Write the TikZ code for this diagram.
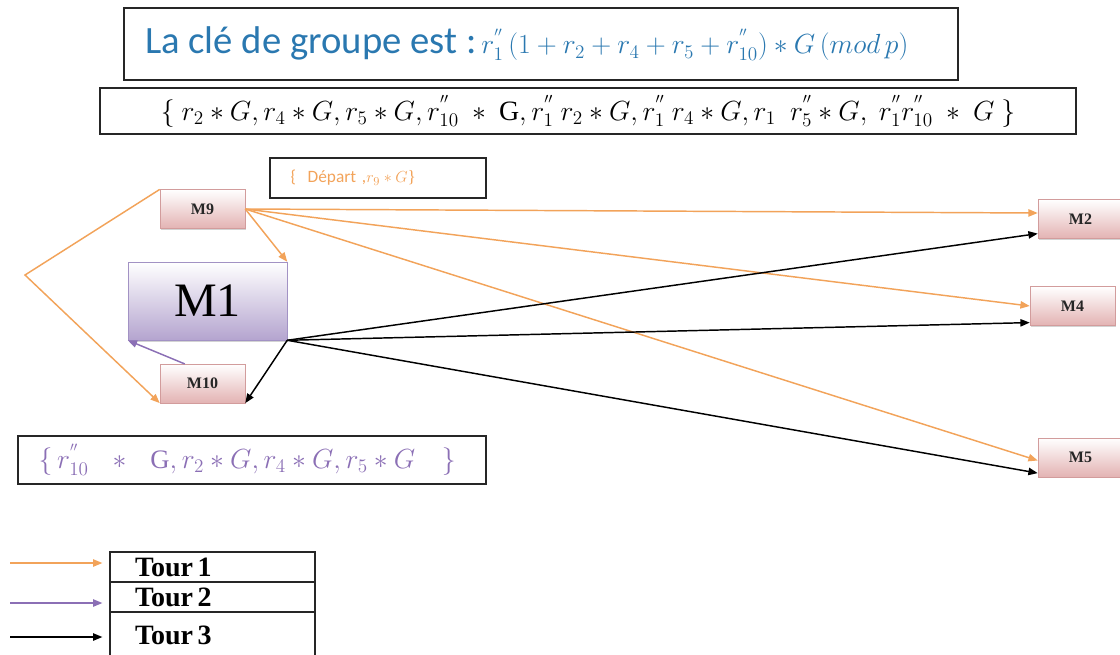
\documentclass[tikz,border=0pt]{standalone}
\usepackage{fontspec}
\setmainfont{Liberation Serif}
\newfontfamily\calibri{Carlito}
\usetikzlibrary{arrows.meta,positioning,calc,shadows}
\definecolor{tourorange}{HTML}{F2A35A}
\definecolor{tourpurple}{HTML}{8B6FB5}
\definecolor{keyblue}{HTML}{2A78B0}
\definecolor{pinkbot}{HTML}{E3B3B3}
\definecolor{pinkline}{HTML}{D29C9C}
\definecolor{lavbot}{HTML}{B4A4CF}
\definecolor{lavline}{HTML}{A292C4}

\begin{document}
\begin{tikzpicture}[
  x=0.75pt, y=-0.75pt,
  >={Triangle[length=7pt,width=5.5pt]},
  frame/.style={draw=black!85, line width=0.9pt, inner ysep=0pt},
  machine/.style={draw=pinkline, top color=white, bottom color=pinkbot, minimum width=63.75pt, minimum height=29pt, inner sep=0pt, text=black!85, font=\fontsize{12}{14}\selectfont\bfseries, drop shadow={shadow xshift=0.8pt, shadow yshift=-1.2pt, opacity=0.35}},
  row/.style={draw=black!85, line width=0.9pt, minimum height=22.5pt, text width=116.25pt, inner xsep=18.75pt, inner ysep=0pt, align=left, font=\fontsize{21}{24}\selectfont\bfseries},
  tourA/.style={->, tourorange, line width=1.1pt},
  tourB/.style={->, tourpurple, line width=1.1pt},
  tourC/.style={->, black, line width=1.1pt}
]
\useasboundingbox (0,0) rectangle (1120,654);
% boites de texte
\node[frame, minimum height=54pt, text width=594pt, inner xsep=15.75pt, align=left, text=keyblue, font=\fontsize{20}{24}\selectfont] (key) at (541,44)
  {{\calibri\fontsize{29}{31}\selectfont La clé de groupe est :}\fontsize{20}{24}\selectfont$\,r_1^{''}\,(1+r_2+r_4+r_5+r_{10}^{''})\ast G\,(mod\,p)$};
\node[frame, minimum width=732pt, minimum height=34.5pt, font=\fontsize{21}{24}\selectfont] (keys) at (588,111)
  {$\{\ r_2\ast G, r_4\ast G, r_5\ast G, r_{10}^{''}\ \ast\ \mathrm{G}, r_1^{''}\ r_2\ast G, r_1^{''}\ r_4\ast G, r_1\ \ r_5^{''}\ast G,\ r_1^{''} r_{10}^{''}\ \ast\ G\ \}$};
\node[frame, minimum height=30pt, text width=131pt, inner xsep=15.5pt, align=left, text=tourorange, font=\fontsize{13}{15}\selectfont] (depart) at (378,178)
  {{\calibri\{\ \ Départ ,}$r_9\ast G$\}};
\node[frame, minimum height=36pt, text width=320pt, inner xsep=15.5pt, align=left, text=tourpurple, font=\fontsize{20}{23}\selectfont] (m10keys) at (252,460)
  {$\{\,r_{10}^{''}\ \ \ast\ \ \mathrm{G}, r_2\ast G, r_4\ast G, r_5\ast G\ \ \ \}$};
% machines
\node[machine] (m9) at (202.5,209) {M9};
\node[draw=lavline, top color=white, bottom color=lavbot, minimum width=119.25pt, minimum height=58.5pt, inner sep=0pt, font=\fontsize{36}{40}\selectfont, drop shadow={shadow xshift=0.8pt, shadow yshift=-1.2pt, opacity=0.35}] (m1) at (207.5,301) {M1};
\node[machine] (m10) at (202.5,383.5) {M10};
\node[machine] (m2) at (1080.5,219) {M2};
\node[machine] (m4) at (1072.5,306) {M4};
\node[machine] (m5) at (1080.5,457.5) {M5};
% legende
\node[row] (r1) at (212.5,567) {Tour\,1};
\node[row] (r2) at (212.5,597) {Tour\,2};
\node[row, minimum height=34.5pt] (r3) at (212.5,635) {Tour\,3};
\coordinate (l1) at (10,563);
\coordinate (l2) at (10,603);
\coordinate (l3) at (10,637);
\draw[tourA] (l1) -- ($(l1 -| r1.west)+(-7,0)$);
\draw[tourB] (l2) -- ($(l2 -| r2.west)+(-7,0)$);
\draw[tourC] (l3) -- ($(l3 -| r3.west)+(-7,0)$);
% tour 1
\coordinate (apex) at (25,275);
\coordinate (m2a) at ($(m2.west)+(0,-6)$);
\coordinate (m5a) at ($(m5.west)+(0,3)$);
\draw[tourA] (m9.north west) -- (apex) -- (m10.south west);
\foreach \t in {m1.north east, m2a, m4.west, m5a} \draw[tourA] (m9.east) -- (\t);
% tour 2
\draw[tourB] ($(m10.north west)+(25,0)$) -- (m1.south west);
% tour 3
\coordinate (m2c) at ($(m2.south west)+(0,-5)$);
\coordinate (m4c) at ($(m4.south west)+(0,-3)$);
\coordinate (m5c) at ($(m5.south west)+(0,-4)$);
\foreach \t in {m2c, m4c, m5c, m10.south east} \draw[tourC] (m1.south east) -- (\t);
\end{tikzpicture}
\end{document}
